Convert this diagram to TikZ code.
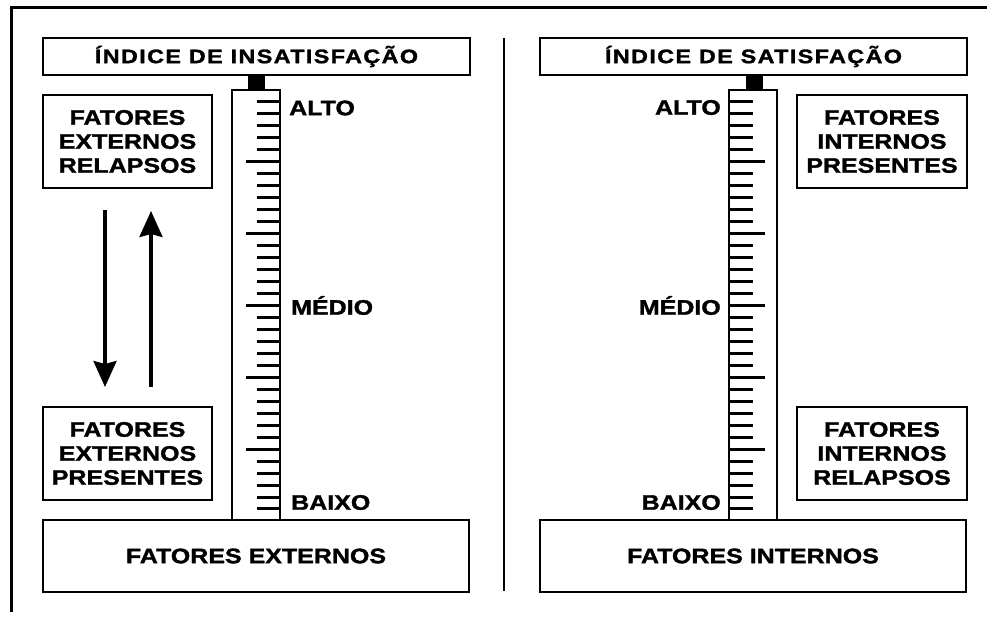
\documentclass[tikz,border=0pt]{standalone}
\usepackage{fontspec}
\setmainfont{Liberation Sans}[FakeStretch=1.19, FakeBold=1.5]
\newfontfamily\titlefont{Liberation Sans}[FakeStretch=1.2, LetterSpace=7, FakeBold=1.5]
\usetikzlibrary{arrows.meta}
\begin{document}
\begin{tikzpicture}[x=1pt,y=-1pt,
  box/.style={draw, line width=2.6pt, fill=white, inner sep=0pt, align=center,
    font=\bfseries\fontsize{21}{24}\selectfont},
  titlebox/.style={box, minimum width=427pt, minimum height=37pt,
    font=\titlefont\bfseries\fontsize{19.5}{22}\selectfont},
  basebox/.style={box, minimum width=426pt, minimum height=72pt},
  smallbox/.style={box, minimum width=169pt, minimum height=93pt},
  tube/.style={draw, line width=2.6pt, fill=white, inner sep=0pt, minimum width=48pt, minimum height=430pt},
  tubecap/.style={fill=black, inner sep=0pt, minimum width=17pt, minimum height=15pt},
  lbl/.style={inner sep=0pt, font=\bfseries\fontsize{21}{24}\selectfont},
  tickline/.style={line width=3pt},
  frameline/.style={line width=3pt},
  arr/.style={line width=3.2pt, -{Stealth[width=23pt,length=26pt,inset=3pt]}}
]
\useasboundingbox (0,0) rectangle (987,617);
% frame
\coordinate (fa) at (11,612);
\coordinate (fb) at (11,8);
\coordinate (fc) at (987,8);
\draw[frameline] (fa) -- (fb) -- (fc);
\coordinate (da) at (504,38);
\coordinate (db) at (504,591);
\draw[line width=2.6pt] (da) -- (db);

% left side
\node[tube] (lt) at (256,305) {};
\node[tubecap] (lc) at (256.5,82.5) {};
\node[titlebox] (lti) at (256.5,56.5) {ÍNDICE DE INSATISFAÇÃO};
\node[basebox] (lb) at (256,556) {FATORES EXTERNOS};
\node[smallbox] (lr) at (127.5,141.5) {FATORES\\EXTERNOS\\RELAPSOS};
\node[smallbox] (lp) at (127.5,453.5) {FATORES\\EXTERNOS\\PRESENTES};
\foreach \i in {0,...,34}{
  \pgfmathsetmacro\yy{102+\i*11.97}
  \pgfmathtruncatemacro\m{mod(\i,6)}
  \ifnum\m=5
    \draw[tickline] (246,\yy) -- (279,\yy);
  \else
    \draw[tickline] (257,\yy) -- (279,\yy);
  \fi
}
\node[lbl, anchor=west] (la) at (289,108) {ALTO};
\node[lbl, anchor=west] (lm) at (291,305.5) {MÉDIO};
\node[lbl, anchor=west] (lx) at (291,502.5) {BAIXO};
\coordinate (d1) at (105,210);
\coordinate (d2) at (105,387);
\coordinate (u1) at (151,387);
\coordinate (u2) at (151,211);
\draw[arr] (d1) -- (d2);
\draw[arr] (u1) -- (u2);

% right side
\node[tube] (rt) at (753,305) {};
\node[tubecap] (rc) at (754,82.5) {};
\node[titlebox] (rti) at (753.5,56.5) {ÍNDICE DE SATISFAÇÃO};
\node[basebox] (rb) at (753,556) {FATORES INTERNOS};
\node[smallbox, minimum width=170pt] (rp) at (882,141.5) {FATORES\\INTERNOS\\PRESENTES};
\node[smallbox, minimum width=170pt] (rr) at (882,453.5) {FATORES\\INTERNOS\\RELAPSOS};
\foreach \i in {0,...,34}{
  \pgfmathsetmacro\yy{102+\i*11.97}
  \pgfmathtruncatemacro\m{mod(\i,6)}
  \ifnum\m=5
    \draw[tickline] (730,\yy) -- (765,\yy);
  \else
    \draw[tickline] (730,\yy) -- (753,\yy);
  \fi
}
\node[lbl, anchor=east] (ra) at (721,107.5) {ALTO};
\node[lbl, anchor=east] (rm) at (721,305.5) {MÉDIO};
\node[lbl, anchor=east] (rx) at (721,502.5) {BAIXO};
\end{tikzpicture}
\end{document}
